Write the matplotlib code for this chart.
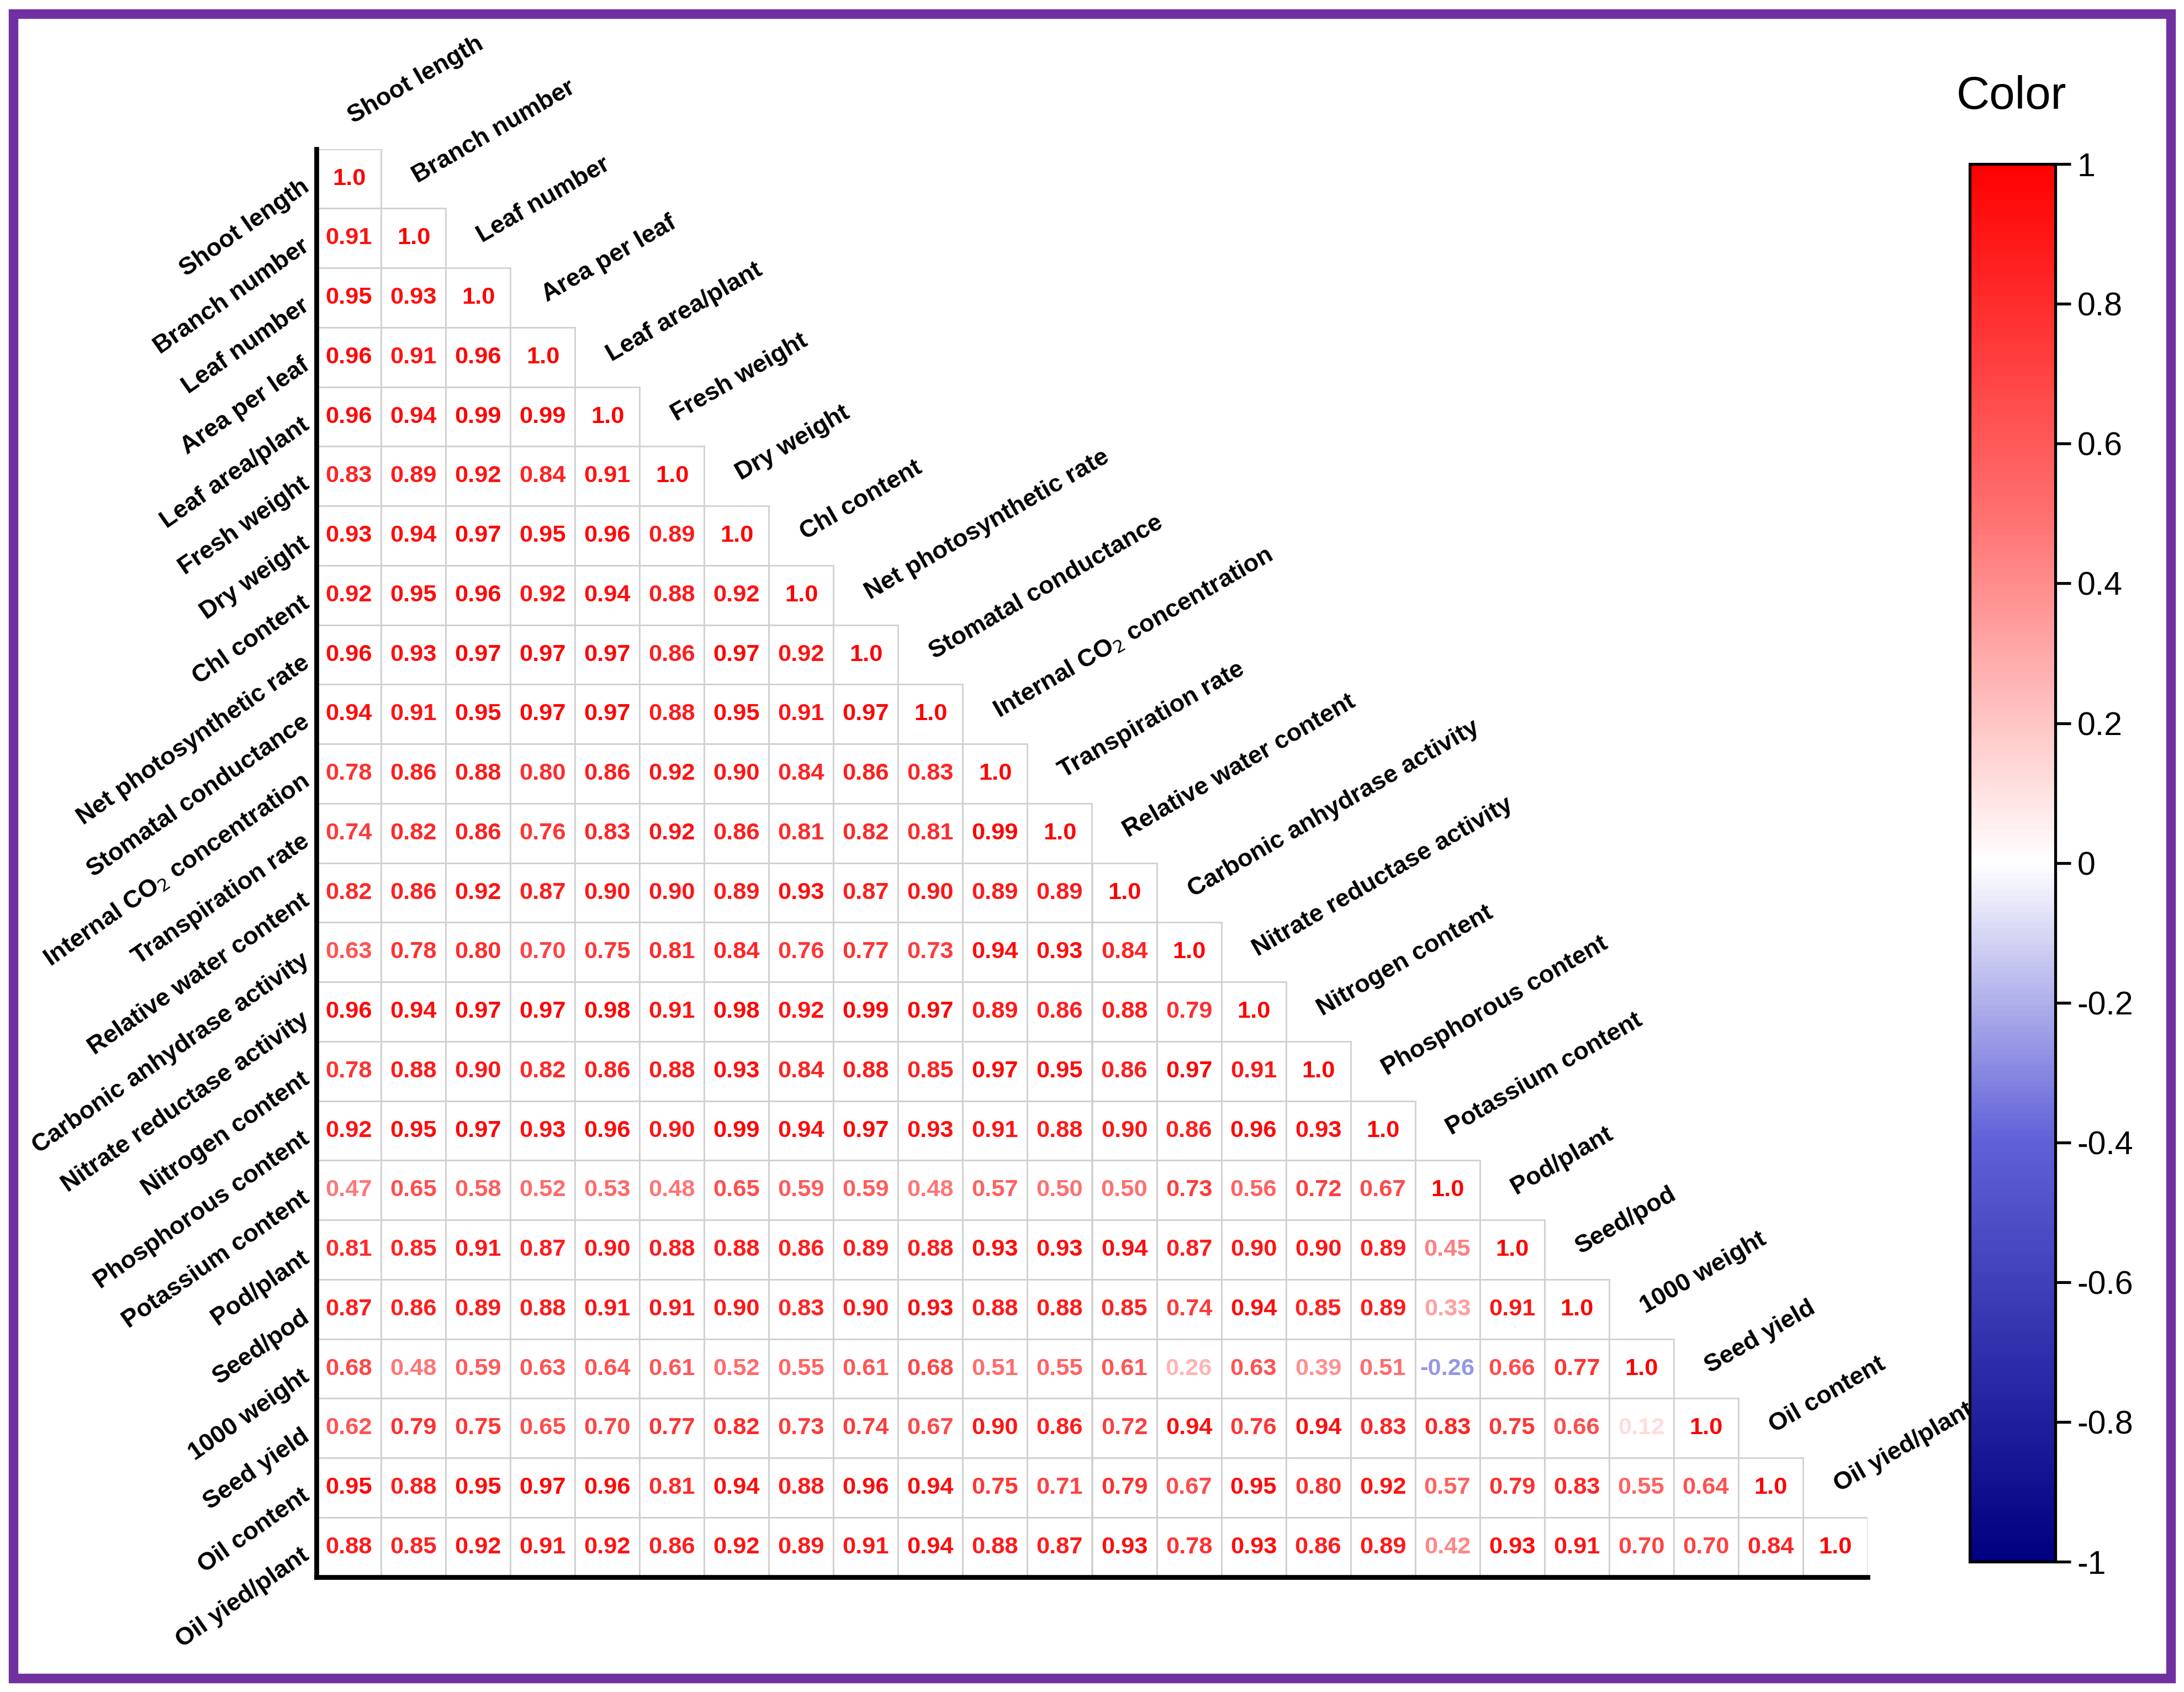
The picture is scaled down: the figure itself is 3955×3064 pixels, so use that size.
import numpy as np
import matplotlib
matplotlib.use("Agg")
import matplotlib.pyplot as plt
from matplotlib.colors import LinearSegmentedColormap, Normalize
from matplotlib.patches import Rectangle

plt.rcParams['font.family'] = ['Liberation Sans', 'DejaVu Sans']

labels = ["Shoot length", "Branch number", "Leaf number", "Area per leaf",
          "Leaf area/plant", "Fresh weight", "Dry weight", "Chl content",
          "Net photosynthetic rate", "Stomatal conductance",
          "Internal CO$_2$ concentration", "Transpiration rate",
          "Relative water content", "Carbonic anhydrase activity",
          "Nitrate reductase activity", "Nitrogen content",
          "Phosphorous content", "Potassium content", "Pod/plant", "Seed/pod",
          "1000 weight", "Seed yield", "Oil content", "Oil yied/plant"]

rows = [
    [1.0],
    [0.91, 1.0],
    [0.95, 0.93, 1.0],
    [0.96, 0.91, 0.96, 1.0],
    [0.96, 0.94, 0.99, 0.99, 1.0],
    [0.83, 0.89, 0.92, 0.84, 0.91, 1.0],
    [0.93, 0.94, 0.97, 0.95, 0.96, 0.89, 1.0],
    [0.92, 0.95, 0.96, 0.92, 0.94, 0.88, 0.92, 1.0],
    [0.96, 0.93, 0.97, 0.97, 0.97, 0.86, 0.97, 0.92, 1.0],
    [0.94, 0.91, 0.95, 0.97, 0.97, 0.88, 0.95, 0.91, 0.97, 1.0],
    [0.78, 0.86, 0.88, 0.80, 0.86, 0.92, 0.90, 0.84, 0.86, 0.83, 1.0],
    [0.74, 0.82, 0.86, 0.76, 0.83, 0.92, 0.86, 0.81, 0.82, 0.81, 0.99, 1.0],
    [0.82, 0.86, 0.92, 0.87, 0.90, 0.90, 0.89, 0.93, 0.87, 0.90, 0.89, 0.89, 1.0],
    [0.63, 0.78, 0.80, 0.70, 0.75, 0.81, 0.84, 0.76, 0.77, 0.73, 0.94, 0.93, 0.84, 1.0],
    [0.96, 0.94, 0.97, 0.97, 0.98, 0.91, 0.98, 0.92, 0.99, 0.97, 0.89, 0.86, 0.88, 0.79, 1.0],
    [0.78, 0.88, 0.90, 0.82, 0.86, 0.88, 0.93, 0.84, 0.88, 0.85, 0.97, 0.95, 0.86, 0.97, 0.91, 1.0],
    [0.92, 0.95, 0.97, 0.93, 0.96, 0.90, 0.99, 0.94, 0.97, 0.93, 0.91, 0.88, 0.90, 0.86, 0.96, 0.93, 1.0],
    [0.47, 0.65, 0.58, 0.52, 0.53, 0.48, 0.65, 0.59, 0.59, 0.48, 0.57, 0.50, 0.50, 0.73, 0.56, 0.72, 0.67, 1.0],
    [0.81, 0.85, 0.91, 0.87, 0.90, 0.88, 0.88, 0.86, 0.89, 0.88, 0.93, 0.93, 0.94, 0.87, 0.90, 0.90, 0.89, 0.45, 1.0],
    [0.87, 0.86, 0.89, 0.88, 0.91, 0.91, 0.90, 0.83, 0.90, 0.93, 0.88, 0.88, 0.85, 0.74, 0.94, 0.85, 0.89, 0.33, 0.91, 1.0],
    [0.68, 0.48, 0.59, 0.63, 0.64, 0.61, 0.52, 0.55, 0.61, 0.68, 0.51, 0.55, 0.61, 0.26, 0.63, 0.39, 0.51, -0.26, 0.66, 0.77, 1.0],
    [0.62, 0.79, 0.75, 0.65, 0.70, 0.77, 0.82, 0.73, 0.74, 0.67, 0.90, 0.86, 0.72, 0.94, 0.76, 0.94, 0.83, 0.83, 0.75, 0.66, 0.12, 1.0],
    [0.95, 0.88, 0.95, 0.97, 0.96, 0.81, 0.94, 0.88, 0.96, 0.94, 0.75, 0.71, 0.79, 0.67, 0.95, 0.80, 0.92, 0.57, 0.79, 0.83, 0.55, 0.64, 1.0],
    [0.88, 0.85, 0.92, 0.91, 0.92, 0.86, 0.92, 0.89, 0.91, 0.94, 0.88, 0.87, 0.93, 0.78, 0.93, 0.86, 0.89, 0.42, 0.93, 0.91, 0.70, 0.70, 0.84, 1.0],
]

n = len(labels)
cmap = LinearSegmentedColormap.from_list(
    "rb", [(0, "#000080"), (0.3, "#6060d8"), (0.5, "#ffffff"), (0.75, "#ff7070"), (1, "#ff0000")])
norm = Normalize(-1, 1)

fig = plt.figure(figsize=(15.82, 12.256), dpi=250)
fig.patches.append(Rectangle((0.006, 0.008), 0.988, 0.984, transform=fig.transFigure,
                             fill=False, edgecolor="#7030a0", linewidth=5))

ax = fig.add_axes([0.145, 0.068, 0.71, 0.844])
ax.set_xlim(0, n)
ax.set_ylim(n, 0)
for i, r in enumerate(rows):
    for j, v in enumerate(r):
        ax.add_patch(Rectangle((j, i), 1, 1, facecolor="white", edgecolor="#d0d0d0", linewidth=0.8))
        txt = "1.0" if v == 1.0 else f"{v:.2f}"
        ax.text(j + 0.5, i + 0.5, txt, ha="center", va="center", fontsize=12.5,
                fontweight="bold", color=cmap(norm(v)))
for i, lab in enumerate(labels):
    ax.text(-0.15, i + 0.6, lab, ha="right", va="center", rotation=35,
            rotation_mode="anchor", fontsize=13, fontweight="bold")
    ax.text(i + 0.6, i - 0.35, lab, ha="left", va="bottom", rotation=30,
            rotation_mode="anchor", fontsize=13, fontweight="bold")
for s in ["top", "right"]:
    ax.spines[s].set_visible(False)
ax.spines["left"].set_linewidth(2.5)
ax.spines["bottom"].set_linewidth(2.5)
ax.set_xticks([])
ax.set_yticks([])

cax = fig.add_axes([0.902, 0.077, 0.039, 0.826])
sm = matplotlib.cm.ScalarMappable(norm=norm, cmap=cmap)
cb = fig.colorbar(sm, cax=cax, ticks=np.arange(-1, 1.01, 0.2))
cb.ax.set_yticklabels(["-1", "-0.8", "-0.6", "-0.4", "-0.2", "0", "0.2", "0.4", "0.6", "0.8", "1"],
                      fontsize=17)
cb.ax.tick_params(length=8, width=1.5)
cb.outline.set_linewidth(1.5)
fig.text(0.921, 0.93, "Color", ha="center", va="bottom", fontsize=24)

fig.savefig("out.png", dpi=250, facecolor="white")
